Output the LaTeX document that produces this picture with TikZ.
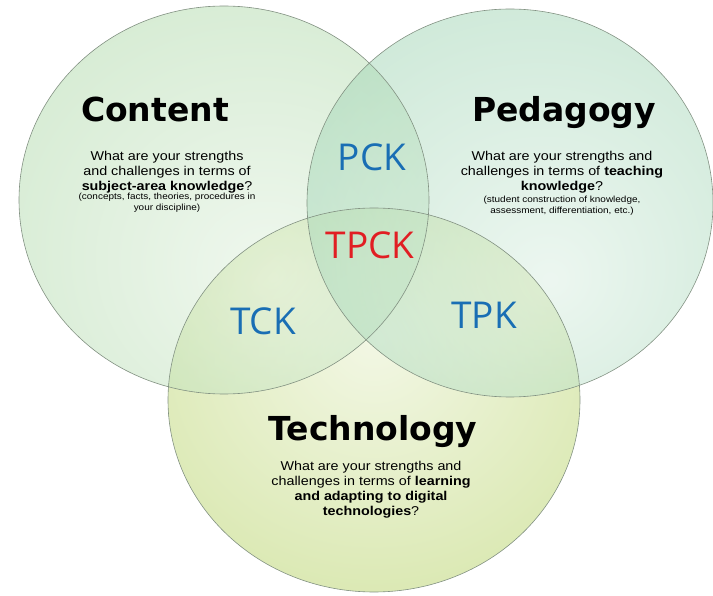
\documentclass[tikz,border=0pt]{standalone}
\usepackage{fontspec}
\setmainfont{Liberation Sans}
\newfontfamily\headfont{DejaVu Sans}
\newfontfamily\askfont[FakeStretch=1.12]{Liberation Sans}
\newfontfamily\zonefont{Open Sans}
\usetikzlibrary{positioning}

\definecolor{contentgreen}{RGB}{168,214,162}
\definecolor{pedgreen}{RGB}{150,208,172}
\definecolor{techgreen}{RGB}{172,204,80}
\definecolor{rimgray}{RGB}{130,145,130}
\definecolor{zoneblue}{RGB}{25,110,180}
\definecolor{zonered}{RGB}{225,30,35}

\pgfdeclareradialshading{contentglow}{\pgfpoint{6bp}{-10bp}}{color(0bp)=(contentgreen!35); color(38bp)=(contentgreen); color(80bp)=(contentgreen)}
\pgfdeclareradialshading{pedglow}{\pgfpoint{5bp}{-10bp}}{color(0bp)=(pedgreen!35); color(38bp)=(pedgreen); color(80bp)=(pedgreen)}
\pgfdeclareradialshading{techglow}{\pgfpoint{0bp}{8bp}}{color(0bp)=(techgreen!30); color(38bp)=(techgreen); color(80bp)=(techgreen)}

\tikzset{
  areahead/.style={font=\headfont\bfseries\fontsize{33}{36}\selectfont, anchor=base, inner sep=0pt},
  askbox/.style={font=\askfont\fontsize{12.8}{15}\selectfont, align=center, anchor=north, inner sep=0pt},
  asidebox/.style={font=\askfont\fontsize{8.9}{11.2}\selectfont, align=center, anchor=north, inner sep=0pt},
  zonelabel/.style={font=\zonefont\fontsize{37}{40}\selectfont, anchor=base, inner sep=0pt, text=zoneblue},
  rim/.style={draw=rimgray, line width=.6pt}
}

\begin{document}
\begin{tikzpicture}[x=1pt,y=-1pt]
	\useasboundingbox (0,0) rectangle (713,596);
	\shade[shading=techglow, fill opacity=.5] (374,400) ellipse [x radius=206pt, y radius=192pt];
	\shade[shading=contentglow, fill opacity=.5] (224,200) ellipse [x radius=205pt, y radius=194pt];
	\shade[shading=pedglow, fill opacity=.5] (510,203) ellipse [x radius=203pt, y radius=194pt];
	\draw[rim] (374,400) ellipse [x radius=206pt, y radius=192pt]; \draw[rim] (224,200) ellipse [x radius=205pt, y radius=194pt]; \draw[rim] (510,203) ellipse [x radius=203pt, y radius=194pt];

	\node[areahead] (content) at (155,122) {Content};
	\node[askbox] (contentask) at (167,151.3) {What are your strengths\\and challenges in terms of\\\textbf{subject-area knowledge}?};
	\node[asidebox] (contentaside) at (167,193.1) {(concepts, facts, theories, procedures in\\your discipline)};

	\node[areahead] (pedagogy) at (564,122) {Pedagogy};
	\node[askbox] (pedagogyask) at (562,150.8) {What are your strengths and\\challenges in terms of \textbf{teaching}\\\textbf{knowledge}?};
	\node[asidebox] (pedagogyaside) at (562,195.6) {(student construction of knowledge,\\assessment, differentiation, etc.)};

	\node[areahead] (technology) at (373,440) {Technology};
	\node[askbox] (technologyask) at (371,460.8) {What are your strengths and\\challenges in terms of \textbf{learning}\\\textbf{and adapting to digital}\\\textbf{technologies}?};

	\node[zonelabel] (pck) at (372,171) {PCK}; \node[zonelabel, text=zonered] (tpck) at (370,259) {TPCK};
	\node[zonelabel] (tck) at (263,335) {TCK}; \node[zonelabel] (tpk) at (484,329) {TPK};
\end{tikzpicture}
\end{document}
